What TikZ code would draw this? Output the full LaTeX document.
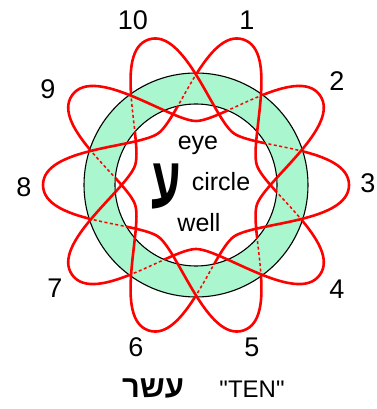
\documentclass[tikz,border=0pt]{standalone}
\usepackage{fontspec}
\setmainfont{Liberation Sans}
\newfontfamily\hebfont[Script=Hebrew]{Liberation Sans}
\TeXXeTstate=1
\usetikzlibrary{positioning}

\definecolor{ringgreen}{RGB}{170,246,206}
\definecolor{knotred}{RGB}{255,0,0}

\tikzset{
  knot/.style={draw=knotred,line width=2.6pt},
  hidden/.style={draw=knotred,line width=1.5pt,dash pattern=on 3pt off 2.5pt},
  ringline/.style={draw=black,line width=1.1pt},
  num/.style={font=\fontsize{27}{32}\selectfont},
  word/.style={font=\fontsize{25}{30}\selectfont,anchor=base},
}

\begin{document}
\begin{tikzpicture}[x=1pt,y=1pt]
  \useasboundingbox (0,0) rectangle (376,409);
  \coordinate (C) at (196,224);

  % ring
  \fill[ringgreen,even odd rule] (C) circle (112) (C) circle (81);
  \draw[ringline] (C) circle (112) (C) circle (81);

  \begin{scope}[shift={(C)}]
    % knot outside the ring
    \begin{scope}[even odd rule]
      \clip (-220,-240) rectangle (200,200) (0,0) circle (112) (0,0) circle (81);
      \draw[knot,line cap=round] (-54:64)
        \foreach \a in {0,108,...,972}{
          .. controls +(\a+36:25) and +(\a-90:38) .. (\a:153)
          .. controls +(\a+90:38) and +(\a-36:25) .. (\a+54:64)
        };
    \end{scope}
    % knot across the ring: over solid, under dashed
    \begin{scope}[even odd rule]
      \clip (0,0) circle (112) (0,0) circle (81);
      \foreach \a in {0,36,...,324}{
        \draw[hidden] (\a:153) .. controls +(\a+90:38) and +(\a-36:25) .. (\a+54:64);
        \draw[knot] (\a-54:64) .. controls +(\a+36:25) and +(\a-90:38) .. (\a:153);
      }
    \end{scope}
  \end{scope}

  % petal numbers
  \foreach \n/\x/\y in {1/247/389,2/337/328,3/368/226,4/337/120,5/252/62,
                        6/136/62,7/55/121,8/24/222,9/48/320,10/133/389}
    \node[num] (lab\n) at (\x,\y) {\n};

  % inside the ring
  \node[word] (eye) at (198,259) {eye};
  \node[word] (circ) at (221,218) {circle};
  \node[word] (well) at (199,177) {well};
  \node[font=\hebfont\bfseries\fontsize{48}{52}\selectfont] (ayin) at (166,222)
    {\scalebox{1}[1.5]{\beginR ע\endR}};

  % bottom line
  \node[font=\hebfont\bfseries\fontsize{31}{36}\selectfont,anchor=base] (eser) at (153,12) {\beginR עשר\endR};
  \node[font=\fontsize{24}{28}\selectfont,anchor=base] (ten) at (252,12) {\textquotedbl TEN\textquotedbl};
\end{tikzpicture}
\end{document}
